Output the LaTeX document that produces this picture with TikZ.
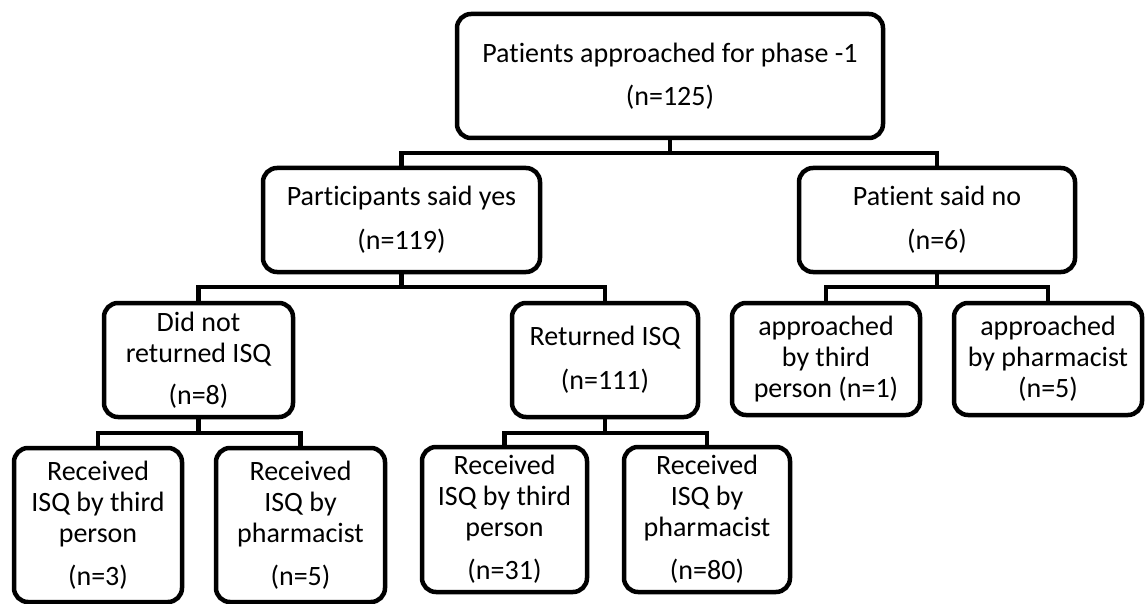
\documentclass[tikz,border=0pt]{standalone}
\usepackage{fontspec}
\setmainfont{Carlito}[Ligatures={NoCommon}]
\begin{document}
\begin{tikzpicture}[x=1pt,y=-1pt,
  box/.style={draw, line width=4.5pt, rounded corners=14pt, align=center,
    inner sep=0pt, font=\fontsize{28}{31}\selectfont},
  conn/.style={draw, line width=4.5pt}]
\useasboundingbox (0,0) rectangle (1145,604);

% level 0
\node[box, minimum width=426pt, minimum height=124pt] (top) at (670,76)
  {Patients approached for phase -1\\[12pt](n=125)};

% level 1
\node[box, minimum width=277pt, minimum height=104pt] (yes) at (401.5,220)
  {Participants said yes\\[13pt](n=119)};
\node[box, minimum width=276pt, minimum height=104pt] (no) at (937,220)
  {Patient said no\\[13pt](n=6)};

% level 2
\node[box, minimum width=189pt, minimum height=114pt] (dnr) at (198.5,360)
  {Did not\\returned ISQ\\[11pt](n=8)};
\node[box, minimum width=186pt, minimum height=114pt] (ret) at (605,360)
  {Returned ISQ\\[13pt](n=111)};
\node[box, minimum width=188pt, minimum height=112pt] (apt) at (826,359)
  {approached\\by third\\person (n=1)};
\node[box, minimum width=188pt, minimum height=112pt] (app) at (1048,359)
  {approached\\by pharmacist\\(n=5)};

% level 3
\node[box, minimum width=168pt, minimum height=154pt] (r1) at (98,525)
  {Received\\ISQ by third\\person\\[12pt](n=3)};
\node[box, minimum width=169pt, minimum height=154pt] (r2) at (300.5,525)
  {Received\\ISQ by\\pharmacist\\[12pt](n=5)};
\node[box, minimum width=165pt, minimum height=145pt] (r3) at (504.5,519.5)
  {Received\\ISQ by third\\person\\[12pt](n=31)};
\node[box, minimum width=166pt, minimum height=145pt] (r4) at (707,519.5)
  {Received\\ISQ by\\pharmacist\\[12pt](n=80)};

% junction points of the elbow connectors
\coordinate (j0) at (670,153);
\coordinate (j1) at (401.5,287);
\coordinate (j2) at (937,287);
\coordinate (j3) at (198.5,433);
\coordinate (j4) at (605,433);

\draw[conn] (top.south) -- (j0);
\draw[conn] (yes.north) |- (j0) -| (no.north);
\draw[conn] (yes.south) -- (j1);
\draw[conn] (dnr.north) |- (j1) -| (ret.north);
\draw[conn] (no.south) -- (j2);
\draw[conn] (apt.north) |- (j2) -| (app.north);
\draw[conn] (dnr.south) -- (j3);
\draw[conn] (r1.north) |- (j3) -| (r2.north);
\draw[conn] (ret.south) -- (j4);
\draw[conn] (r3.north) |- (j4) -| (r4.north);
\end{tikzpicture}
\end{document}
